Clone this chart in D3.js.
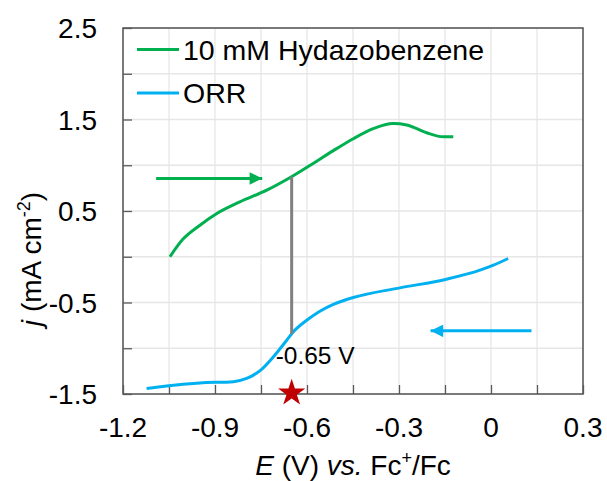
<!DOCTYPE html>
<html>
<head>
<meta charset="utf-8">
<script src="https://cdn.jsdelivr.net/npm/d3@7"></script>
<style>
  html, body { margin: 0; padding: 0; background: #fff; }
  svg { display: block; font-family: Arial, "Liberation Sans", sans-serif; }
</style>
</head>
<body>
<div id="chart"></div>
<script>
// Hydrazobenzene oxidation sweep (green)
const greenE = [-1.047, -1.005, -0.949, -0.894, -0.819, -0.731, -0.645, -0.58, -0.514, -0.449, -0.384, -0.319, -0.275, -0.21, -0.156, -0.123];
const greenJ = [0.0, 0.19, 0.345, 0.473, 0.60, 0.728, 0.885, 1.02, 1.16, 1.29, 1.40, 1.455, 1.44, 1.355, 1.311, 1.311];

// ORR sweep (blue)
const blueE = [-1.123, -1.058, -0.949, -0.84, -0.797, -0.753, -0.71, -0.666, -0.645, -0.601, -0.558, -0.514, -0.449, -0.297, -0.145, -0.036, 0.008, 0.056];
const blueJ = [-1.441, -1.412, -1.379, -1.365, -1.33, -1.245, -1.095, -0.912, -0.822, -0.694, -0.595, -0.52, -0.445, -0.34, -0.245, -0.147, -0.092, -0.019];

// Axis ticks
const xTickLabels = [-1.2, -0.9, -0.6, -0.3, 0, 0.3];
const xMinorTicks = [-1.2, -1.05, -0.9, -0.75, -0.6, -0.45, -0.3, -0.15, 0, 0.15, 0.3];
const yTickLabels = [-1.5, -0.5, 0.5, 1.5, 2.5];
const yMinorTicks = [-1.5, -1, -0.5, 0, 0.5, 1, 1.5, 2, 2.5];

// Onset marker and sweep-direction arrows [x1, x2, y]
const onsetE = -0.65;
const greenArrow = [-1.092, -0.746, 0.856];
const blueArrow = [0.132, -0.197, -0.81];

const seriesNames = ["10 mM Hydazobenzene", "ORR"];
const colors = { green: "#00b050", blue: "#00b0f0", grid: "#e6e6e6", axis: "#595959", star: "#c00000", onset: "#808080" };

const W = 607, H = 481;
const m = { left: 123, right: 24, top: 28, bottom: 87 };
const iw = W - m.left - m.right, ih = H - m.top - m.bottom;

const svg = d3.select("#chart").append("svg").attr("width", W).attr("height", H);

const x = d3.scaleLinear().domain([-1.2, 0.3]).range([m.left, m.left + iw]);
const y = d3.scaleLinear().domain([-1.5, 2.5]).range([m.top + ih, m.top]);

// Grid
const grid = svg.append("g");
grid.selectAll("line.v").data(xMinorTicks.slice(1, -1)).join("line")
  .attr("x1", d => x(d)).attr("x2", d => x(d)).attr("y1", y(-1.5)).attr("y2", y(2.5))
  .attr("stroke", colors.grid).attr("stroke-width", 1.3);
grid.selectAll("line.h").data(yMinorTicks.slice(1, -1)).join("line")
  .attr("y1", d => y(d)).attr("y2", d => y(d)).attr("x1", x(-1.2)).attr("x2", x(0.3))
  .attr("stroke", colors.grid).attr("stroke-width", 1.3);

// Axes with inward ticks
const fmt = d => (d === 0 ? "0" : d3.format(".1f")(d)).replace("−", "-");
const xAxis = svg.append("g").attr("transform", `translate(0,${y(-1.5)})`)
  .call(d3.axisBottom(x).tickValues(xMinorTicks).tickSize(-9).tickFormat(""));
const yAxis = svg.append("g").attr("transform", `translate(${x(-1.2)},0)`)
  .call(d3.axisLeft(y).tickValues(yMinorTicks).tickSize(-9).tickFormat(""));
[xAxis, yAxis].forEach(g => {
  g.select(".domain").remove();
  g.selectAll(".tick line").attr("stroke", colors.axis).attr("stroke-width", 1.3);
});

// Frame
svg.append("rect").attr("x", x(-1.2)).attr("y", y(2.5))
  .attr("width", x(0.3) - x(-1.2)).attr("height", y(-1.5) - y(2.5))
  .attr("fill", "none").attr("stroke", colors.axis).attr("stroke-width", 1.6);

// Tick labels
svg.append("g").selectAll("text").data(xTickLabels).join("text")
  .attr("x", d => x(d)).attr("y", 437).attr("text-anchor", "middle")
  .attr("font-size", 28).attr("fill", "#000").text(fmt);
svg.append("g").selectAll("text").data(yTickLabels).join("text")
  .attr("x", 97).attr("y", d => y(d) + 10).attr("text-anchor", "end")
  .attr("font-size", 28).attr("fill", "#000").text(fmt);

// Curves
const line = d3.line().x(d => x(d[0])).y(d => y(d[1])).curve(d3.curveMonotoneX);
const greenPts = d3.zip(greenE, greenJ), bluePts = d3.zip(blueE, blueJ);
svg.append("path").datum(greenPts).attr("d", line).attr("fill", "none")
  .attr("stroke", colors.green).attr("stroke-width", 3);
svg.append("path").datum(bluePts).attr("d", line).attr("fill", "none")
  .attr("stroke", colors.blue).attr("stroke-width", 3);

// Onset line between the two sweeps
const interp = (xs, ys, v) => {
  const i = d3.bisectRight(xs, v) - 1;
  const t = (v - xs[i]) / (xs[i + 1] - xs[i]);
  return ys[i] + t * (ys[i + 1] - ys[i]);
};
svg.append("line")
  .attr("x1", x(onsetE)).attr("x2", x(onsetE))
  .attr("y1", y(interp(greenE, greenJ, onsetE))).attr("y2", y(interp(blueE, blueJ, onsetE)))
  .attr("stroke", colors.onset).attr("stroke-width", 3);

svg.append("text").attr("x", x(onsetE) - 16).attr("y", 364)
  .attr("font-size", 24.5).attr("fill", "#000").text(`${onsetE} V`);

// Star at the onset potential
svg.append("path")
  .attr("d", d3.symbol().type(d3.symbolStar).size(230)())
  .attr("transform", `translate(${x(onsetE)},${y(-1.5) - 1})`)
  .attr("fill", colors.star);

// Sweep-direction arrows
const defs = svg.append("defs");
[["g", colors.green], ["b", colors.blue]].forEach(([id, c]) => {
  defs.append("marker").attr("id", "arr-" + id).attr("viewBox", "0 0 10 10")
    .attr("refX", 10).attr("refY", 5).attr("markerWidth", 4.6).attr("markerHeight", 4.2)
    .attr("markerUnits", "strokeWidth").attr("orient", "auto")
    .append("path").attr("d", "M0,0L10,5L0,10Z").attr("fill", c);
});
svg.append("line").attr("x1", x(greenArrow[0])).attr("x2", x(greenArrow[1]))
  .attr("y1", y(greenArrow[2])).attr("y2", y(greenArrow[2]))
  .attr("stroke", colors.green).attr("stroke-width", 3).attr("marker-end", "url(#arr-g)");
svg.append("line").attr("x1", x(blueArrow[0])).attr("x2", x(blueArrow[1]))
  .attr("y1", y(blueArrow[2])).attr("y2", y(blueArrow[2]))
  .attr("stroke", colors.blue).attr("stroke-width", 3).attr("marker-end", "url(#arr-b)");

// Legend
const legend = svg.append("g");
[[colors.green, 49.5, 59.5], [colors.blue, 93, 103]].forEach(([c, ly, ty], i) => {
  legend.append("line").attr("x1", 137).attr("x2", 179).attr("y1", ly).attr("y2", ly)
    .attr("stroke", c).attr("stroke-width", 3);
  legend.append("text").attr("x", 183).attr("y", ty).attr("font-size", 28.5)
    .attr("fill", "#000").text(seriesNames[i]);
});

// Axis titles
const xt = svg.append("text").attr("x", x(-0.45)).attr("y", 475).attr("text-anchor", "middle")
  .attr("font-size", 28).attr("fill", "#000");
xt.append("tspan").attr("font-style", "italic").text("E");
xt.append("tspan").text(" (V) ");
xt.append("tspan").attr("font-style", "italic").text("vs.");
xt.append("tspan").text(" Fc");
xt.append("tspan").attr("font-size", 18).attr("dy", -11).text("+");
xt.append("tspan").attr("dy", 11).text("/Fc");

const yt = svg.append("text").attr("transform", `translate(41,${259}) rotate(-90)`)
  .attr("text-anchor", "middle").attr("font-size", 28).attr("fill", "#000");
yt.append("tspan").attr("font-style", "italic").text("j");
yt.append("tspan").text(" (mA cm");
yt.append("tspan").attr("font-size", 18).attr("dy", -11).text("-2");
yt.append("tspan").attr("dy", 11).text(")");
</script>
</body>
</html>
